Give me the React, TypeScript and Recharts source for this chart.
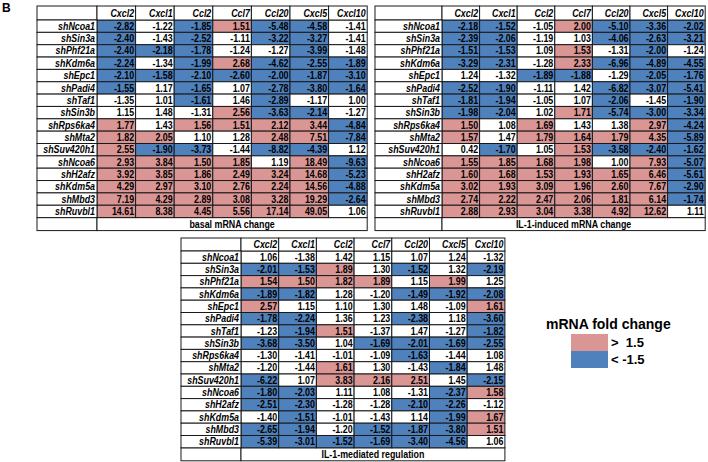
import { ScatterChart, Scatter, XAxis, YAxis, Legend } from "recharts";

const FONT = '"Liberation Sans", Arial, sans-serif';
const PINK = "#DA9694";
const BLUE = "#4F81BD";

const genes = ["Cxcl2", "Cxcl1", "Ccl2", "Ccl7", "Ccl20", "Cxcl5", "Cxcl10"];

const shRNAs = [
  "shNcoa1", "shSin3a", "shPhf21a", "shKdm6a", "shEpc1", "shPadi4", "shTaf1", "shSin3b",
  "shRps6ka4", "shMta2", "shSuv420h1", "shNcoa6", "shH2afz", "shKdm5a", "shMbd3", "shRuvbl1",
];

// basal mRNA change
const basal = [
  [-2.82, -1.22, -1.85, 1.51, -5.48, -4.58, -1.41],
  [-2.40, -1.43, -2.52, -1.11, -3.22, -3.27, -1.41],
  [-2.40, -2.18, -1.78, -1.24, -1.27, -3.99, -1.48],
  [-2.24, -1.34, -1.99, 2.68, -4.62, -2.55, -1.89],
  [-2.10, -1.58, -2.10, -2.60, -2.00, -1.87, -3.10],
  [-1.55, 1.17, -1.65, 1.07, -2.78, -3.80, -1.64],
  [-1.35, 1.01, -1.61, 1.46, -2.89, -1.17, 1.00],
  [1.15, 1.48, -1.31, 2.56, -3.63, -2.14, -1.27],
  [1.77, 1.43, 1.56, 1.51, 2.12, 3.44, -4.84],
  [1.82, 2.05, 1.10, 1.28, 2.48, 7.51, -7.84],
  [2.55, -1.90, -3.73, -1.44, -8.82, -4.39, 1.12],
  [2.93, 3.84, 1.50, 1.85, 1.19, 18.49, -9.63],
  [3.92, 3.85, 1.86, 2.49, 3.24, 14.68, -5.23],
  [4.29, 2.97, 3.10, 2.76, 2.24, 14.56, -4.88],
  [7.19, 4.29, 2.89, 3.08, 3.28, 19.29, -2.64],
  [14.61, 8.38, 4.45, 5.56, 17.14, 49.05, 1.06],
];

// IL-1-induced mRNA change
const induced = [
  [-2.18, -1.52, -1.05, 2.00, -5.10, -3.36, -2.02],
  [-2.39, -2.06, -1.19, 1.03, -4.06, -2.63, -3.21],
  [-1.51, -1.53, 1.09, 1.53, -1.31, -2.00, -1.24],
  [-3.29, -2.31, -1.28, 2.33, -6.96, -4.89, -4.55],
  [1.24, -1.32, -1.89, -1.88, -1.29, -2.05, -1.76],
  [-2.52, -1.90, -1.11, 1.42, -6.82, -3.07, -5.41],
  [-1.81, -1.94, -1.05, 1.07, -2.06, -1.45, -1.90],
  [-1.98, -2.04, 1.02, 1.71, -5.74, -3.00, -3.34],
  [1.50, 1.08, 1.69, 1.43, 1.38, 2.97, -4.24],
  [1.57, 1.47, 1.79, 1.64, 1.79, 4.35, -5.89],
  [0.42, -1.70, 1.05, 1.53, -3.58, -2.40, -1.62],
  [1.55, 1.85, 1.68, 1.98, 1.00, 7.93, -5.07],
  [1.60, 1.68, 1.53, 1.93, 1.65, 6.46, -5.61],
  [3.02, 1.93, 3.09, 1.96, 2.60, 7.67, -2.90],
  [2.74, 2.22, 2.47, 2.06, 1.81, 6.14, -1.74],
  [2.88, 2.93, 3.04, 3.38, 4.92, 12.62, 1.11],
];

// IL-1-mediated regulation
const mediated = [
  [1.06, -1.38, 1.42, 1.15, 1.07, 1.24, -1.32],
  [-2.01, -1.53, 1.89, 1.30, -1.52, 1.32, -2.19],
  [1.54, 1.50, 1.82, 1.89, 1.15, 1.99, 1.25],
  [-1.89, -1.82, 1.28, -1.20, -1.49, -1.92, -2.08],
  [2.57, 1.15, 1.10, 1.30, 1.48, -1.09, 1.61],
  [-1.78, -2.24, 1.36, 1.23, -2.38, 1.18, -3.60],
  [-1.23, -1.94, 1.51, -1.37, 1.47, -1.27, -1.82],
  [-3.68, -3.50, 1.04, -1.69, -2.01, -1.69, -2.55],
  [-1.30, -1.41, -1.01, -1.09, -1.63, -1.44, 1.08],
  [-1.20, -1.44, 1.61, 1.30, -1.43, -1.84, 1.48],
  [-6.22, 1.07, 3.83, 2.16, 2.51, 1.45, -2.15],
  [-1.80, -2.03, 1.11, 1.08, -1.31, -2.37, 1.58],
  [-2.51, -2.30, -1.28, -1.28, -2.10, -2.26, -1.12],
  [-1.40, -1.51, -1.01, -1.43, 1.14, -1.99, 1.67],
  [-2.65, -1.94, -1.20, -1.52, -1.87, -3.80, 1.51],
  [-5.39, -3.01, -1.52, -1.69, -3.40, -4.56, 1.06],
];

const legendItems = [
  { label: ">  1.5", color: PINK },
  { label: "< -1.5", color: BLUE },
];

function cellFill(v: number) {
  if (v >= 1.485) return PINK;
  if (v <= -1.485) return BLUE;
  return "#ffffff";
}

interface TableProps {
  values: number[][];
  caption: string;
  left: number;
  top: number;
  labelW: number;
  colW: number;
  headerH: number;
  rowH: number;
  footerH: number;
  legend?: boolean;
}

const pad = 1;
const FS = 10.2;
const LINE = "#1a1a1a";

// the figure's type is a bit narrower than Arial, so squeeze it horizontally
function Txt(props: { x: number; y: number; anchor: "start" | "middle" | "end"; italic?: boolean; children: any }) {
  return (
    <text
      transform={`translate(${props.x} ${props.y}) scale(0.87 1)`}
      textAnchor={props.anchor}
      fontFamily={FONT}
      fontStyle={props.italic ? "italic" : "normal"}
      fontWeight="bold"
      fontSize={FS}
      fill="#000"
    >
      {props.children}
    </text>
  );
}

function renderLegend() {
  return (
    <div style={{ fontFamily: FONT, fontWeight: "bold", color: "#000" }}>
      <div style={{ fontSize: 14, lineHeight: "16px", marginBottom: 2 }}>mRNA fold change</div>
      {legendItems.map((item) => (
        <div key={item.label} style={{ display: "flex", alignItems: "center", height: 17, marginLeft: 25 }}>
          <span style={{ display: "inline-block", width: 37, height: 17, background: item.color }} />
          <span style={{ fontSize: 13, marginLeft: 3, whiteSpace: "pre" }}>{item.label}</span>
        </div>
      ))}
    </div>
  );
}

function FoldTable(p: TableProps) {
  const plotW = p.colW * genes.length;
  const plotH = p.rowH * shRNAs.length;
  const width = p.labelW + plotW + pad * 2;
  const height = p.headerH + plotH + p.footerH + pad * 2;

  const data = shRNAs.flatMap((s, r) =>
    genes.map((g, c) => ({ gene: g, shrna: s, value: p.values[r][c] }))
  );

  const renderCell = (props: any) => {
    const { cx, cy, payload } = props;
    return (
      <g>
        <rect
          x={cx - p.colW / 2}
          y={cy - p.rowH / 2}
          width={p.colW}
          height={p.rowH}
          fill={cellFill(payload.value)}
          stroke={LINE}
          strokeWidth={1}
        />
        <Txt x={cx + p.colW / 2 - 1.5} y={cy + 3.6} anchor="end">
          {payload.value.toFixed(2)}
        </Txt>
      </g>
    );
  };

  const renderHeader = (props: any) => {
    const { x, payload } = props;
    return (
      <g>
        <rect x={x - p.colW / 2} y={pad} width={p.colW} height={p.headerH} fill="#fff" stroke={LINE} strokeWidth={1} />
        <Txt x={x + p.colW / 2 - 1.5} y={pad + p.headerH - 3.2} anchor="end" italic>
          {payload.value}
        </Txt>
      </g>
    );
  };

  const renderRowLabel = (props: any) => {
    const { y, payload } = props;
    return (
      <g>
        <rect x={pad} y={y - p.rowH / 2} width={p.labelW} height={p.rowH} fill="#fff" stroke={LINE} strokeWidth={1} />
        <Txt x={pad + p.labelW - 2} y={y + 3.6} anchor="end" italic>
          {payload.value}
        </Txt>
      </g>
    );
  };

  // top-left empty cell and footer row
  const renderFrame = () => {
    const yFoot = pad + p.headerH + plotH;
    return (
      <g>
        <rect x={pad} y={pad} width={p.labelW} height={p.headerH} fill="#fff" stroke={LINE} strokeWidth={1} />
        <rect x={pad} y={yFoot} width={p.labelW} height={p.footerH} fill="#fff" stroke={LINE} strokeWidth={1} />
        <rect x={pad + p.labelW} y={yFoot} width={plotW} height={p.footerH} fill="#fff" stroke={LINE} strokeWidth={1} />
        <Txt x={pad + p.labelW + plotW / 2} y={yFoot + p.footerH - 2.8} anchor="middle">
          {p.caption}
        </Txt>
      </g>
    );
  };

  return (
    <div style={{ position: "absolute", left: p.left - pad, top: p.top - pad }}>
      <ScatterChart
        width={width}
        height={height}
        margin={{ top: pad, right: pad, bottom: pad + p.footerH, left: pad }}
      >
        <XAxis
          dataKey="gene"
          type="category"
          orientation="top"
          height={p.headerH}
          allowDuplicatedCategory={false}
          interval={0}
          axisLine={false}
          tickLine={false}
          tick={renderHeader}
        />
        <YAxis
          dataKey="shrna"
          type="category"
          width={p.labelW}
          reversed
          allowDuplicatedCategory={false}
          interval={0}
          axisLine={false}
          tickLine={false}
          tick={renderRowLabel}
          label={{ value: "", content: renderFrame }}
        />
        <Scatter data={data} shape={renderCell} isAnimationActive={false} />
        {p.legend && (
          <Legend
            layout="horizontal"
            verticalAlign="middle"
            align="center"
            content={renderLegend}
            wrapperStyle={{ position: "absolute", left: 546 - p.left + pad, top: 316 - p.top + pad, width: 150, bottom: "auto" }}
          />
        )}
      </ScatterChart>
    </div>
  );
}

export default function App() {
  return (
    <div style={{ position: "absolute", left: 0, top: 0, width: 708, height: 462, background: "#fff", fontFamily: FONT }}>
      <div style={{ position: "absolute", left: 2, top: 1, fontSize: 12, fontWeight: "bold" }}>B</div>
      <FoldTable values={basal} caption="basal mRNA change" left={37} top={6} labelW={60} colW={38.6} headerH={14} rowH={12.35} footerH={13} />
      <FoldTable values={induced} caption="IL-1-induced mRNA change" left={375} top={6} labelW={67} colW={37.6} headerH={14} rowH={12.35} footerH={13} />
      <FoldTable values={mediated} caption="IL-1-mediated regulation" left={181} top={238} labelW={60} colW={37.7} headerH={13} rowH={12.3} footerH={13} legend />
    </div>
  );
}
